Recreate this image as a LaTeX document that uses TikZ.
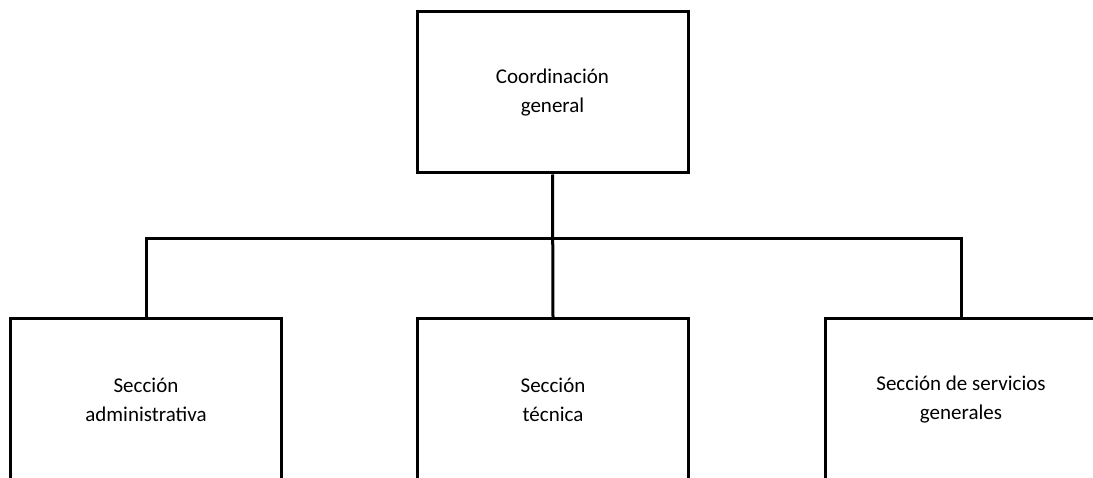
\documentclass[tikz,border=0pt]{standalone}
\usepackage{fontspec}
\setmainfont{Carlito}
\begin{document}
\begin{tikzpicture}[x=1pt,y=-1pt,
  orgbox/.style={draw=black,line width=3pt,fill=white,minimum width=271pt,minimum height=161pt,
    align=center,inner sep=0pt,font=\fontsize{21}{29}\selectfont},
  link/.style={draw=black,line width=3pt}]
\useasboundingbox (0,0) rectangle (1093,478);
\clip (0,0) rectangle (1093,478);
\node[orgbox] (top) at (552.5,92.5) {Coordinación\\general};
\node[orgbox] (left) at (146,399.5) {Sección\\administrativa};
\node[orgbox] (mid) at (553,399.5) {Sección\\técnica};
\node[orgbox] (right) at (961,399.5) {Sección de servicios\\generales};
\coordinate (bus) at (553,239);
\draw[link] (top.south) -- (mid.north);
\draw[link] (left.north) |- (bus) -| (right.north);
\end{tikzpicture}
\end{document}
